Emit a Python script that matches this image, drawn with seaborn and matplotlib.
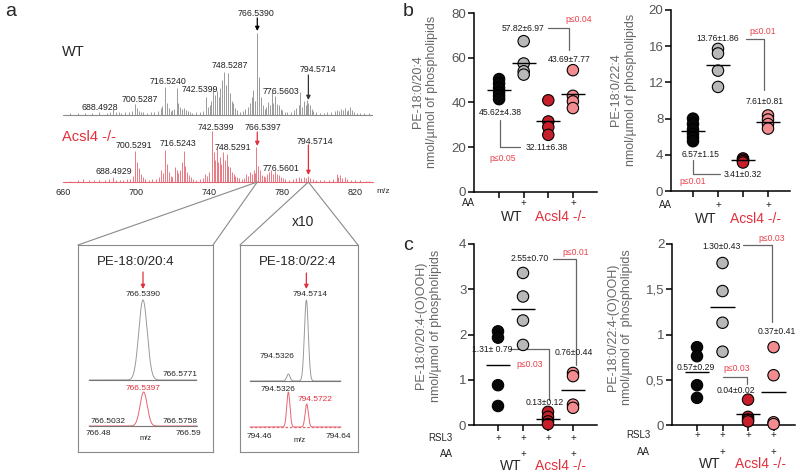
import numpy as np
import pandas as pd
import matplotlib
matplotlib.use("Agg")
import matplotlib.pyplot as plt
import seaborn as sns
from matplotlib.patches import ConnectionPatch

# ---------------- data ----------------
spec_xticks = [660, 700, 740, 780, 820]

wt_mz = [664, 668, 672, 676, 680, 684, 686, 687.5, 689, 690.5, 692, 694, 696, 698, 699.5, 700.5, 701.5,
         702.5, 704, 706, 708, 710, 712, 713.5, 714.5, 715.9, 716.9, 718, 719, 720, 721, 722.3, 723.3,
         724.3, 725.3, 726.3, 727.3, 728.3, 729.5, 731, 733, 735, 736.5, 738.2, 739.3, 740.4, 741.4,
         742.4, 743.4, 744.3, 745.3, 746.2, 747.3, 748.4, 749.4, 750.5, 751.5, 752.5, 753.4, 754.5,
         755.5, 757, 758.5, 760, 761.5, 762.5, 763.5, 764.4, 765.4, 766.5, 767.5, 768.5, 769.5, 770.5,
         771.5, 772.3, 773.3, 774.4, 775.3, 776.4, 777.4, 778.2, 779.3, 780.3, 781.5, 783, 785, 786.5,
         788, 789.5, 790.2, 791.2, 792.1, 793.1, 794.0, 794.6, 795.4, 796.3, 797.3, 799, 801, 803, 805,
         807, 809, 810.5, 811.5, 812.5, 813.5, 814.5, 815.5, 816.5, 817.5, 818.5, 819.5, 821, 823, 825, 828]
wt_int = [1.5, 2, 1.5, 2, 2.5, 2, 3, 6, 3, 2.5, 2, 2.5, 3, 4, 11, 7, 4,
          3, 2.5, 2, 2.5, 3, 4, 7, 9, 28, 12, 7, 4, 5, 6, 27, 12,
          8, 6, 7, 5, 4, 3, 2, 2.5, 3, 4, 18, 8, 10, 14,
          28, 20, 24, 18, 27, 35, 43, 30, 42, 22, 14, 12, 7,
          5, 3, 4, 6, 8, 12, 18, 25, 14, 82, 38, 18, 10, 6,
          8, 13, 10, 23, 12, 19, 11, 10, 6, 5, 3, 2.5, 3, 5,
          7, 10, 23, 8, 14, 10, 15, 12, 10, 6, 4, 3, 2, 2, 2.5,
          3, 4, 5, 4, 6, 5, 7, 4, 5, 8, 5, 3, 2, 2, 1.5, 1.5]

ko_mz = [664, 668, 671, 674, 677, 680, 683, 685, 687.6, 689, 691, 693, 695, 697, 698.5, 699.6, 700.6,
         701.6, 702.6, 703.6, 705, 707, 709, 711, 712.5, 713.6, 714.6, 715.9, 716.9, 717.9, 719, 720,
         721.3, 722.3, 723.3, 724.3, 725.3, 726.1, 727.1, 728.1, 729.2, 730.3, 731.5, 733, 735, 736.5,
         738, 739, 740.2, 741.8, 742.8, 743.6, 744.3, 745.2, 746.0, 746.9, 747.8, 748.8, 749.7, 750.6,
         751.5, 752.5, 753.5, 754.5, 755.6, 756.5, 758, 759.5, 760.5, 761.5, 762.5, 763.5, 764.5, 765.3,
         766.1, 767.0, 768, 769, 770, 771, 772, 773, 774.2, 775, 776.2, 777.2, 778.3, 779.3, 780.5, 782,
         784, 786, 788, 789.5, 790.5, 792, 793.3, 794.5, 795.5, 797, 799, 801, 803, 806, 808, 810, 811,
         812, 813, 814.5, 816, 818, 820, 823, 826, 828]
ko_int = [1.5, 2, 3, 2, 2, 2.5, 2, 3, 5, 2, 2, 2.5, 3, 3, 6, 31, 20,
          14, 8, 5, 3, 2.5, 3, 3, 5, 12, 9, 32, 18, 10, 6, 5,
          15, 12, 9, 12, 20, 31, 16, 10, 7, 5, 3, 2.5, 3, 4,
          8, 6, 10, 51, 30, 22, 33, 20, 25, 18, 30, 22, 28, 16,
          15, 10, 8, 6, 5, 4, 3, 4, 8, 6, 10, 8, 12, 9,
          35, 16, 12, 7, 6, 5, 8, 10, 12, 8, 11, 8, 7, 5, 4, 3,
          2.5, 3, 4, 5, 4, 5, 4, 6, 4, 3, 2, 2, 2, 2.5, 3, 8, 5,
          7, 4, 5, 3, 2.5, 2, 2, 1.5, 1.5]

wt_peak_labels = ["688.4928", "700.5287", "716.5240", "742.5399", "748.5287", "766.5390", "776.5603", "794.5714"]
ko_peak_labels = ["688.4929", "700.5291", "716.5243", "742.5399", "748.5291", "766.5397", "776.5601", "794.5714"]
arrow_peaks = [766.54, 794.57]

inset1_title = "PE-18:0/20:4"
inset1_wt_center, inset1_wt_height, inset1_wt_width = [766.5390], [80], [0.0047]
inset1_ko_center, inset1_ko_height, inset1_ko_width = [766.5397], [34], [0.0040]
inset1_labels = ["766.5390", "766.5771", "766.5397", "766.5032", "766.5758"]
inset1_range = ["766.48", "766.59"]

inset2_title = "PE-18:0/22:4"
inset2_wt_center, inset2_wt_height, inset2_wt_width = [794.5326, 794.5714], [7, 81], [0.0035, 0.0042]
inset2_ko_center, inset2_ko_height, inset2_ko_width = [794.5326, 794.5722], [35, 23], [0.0034, 0.0034]
inset2_labels = ["794.5714", "794.5326", "794.5326", "794.5722"]
inset2_range = ["794.46", "794.64"]

groups = ["WT", "WT+AA", "Acsl4", "Acsl4+AA"]
group_colors = ["#080808", "#b8b8b8", "#c61f2a", "#f28c90"]

b1_vals = [[50.5, 48.5, 46.5, 44.5, 43.0, 41.5], [67.5, 57.5, 54.0, 52.5],
           [41.0, 31.5, 29.0, 25.5], [54.5, 43.0, 40.5, 37.5]]
b2_vals = [[8.0, 7.4, 6.8, 6.3, 5.9, 5.5], [15.7, 15.2, 13.3, 11.5],
           [3.6, 3.45, 3.3, 3.15], [8.35, 7.9, 7.4, 6.9]]
c1_vals = [[2.07, 1.93, 0.88, 0.42], [3.36, 2.84, 2.31, 1.77],
           [0.29, 0.18, 0.08, 0.02], [1.15, 1.08, 0.45, 0.38]]
c2_vals = [[0.86, 0.76, 0.44, 0.30], [1.79, 1.48, 1.13, 0.81],
           [0.28, 0.09, 0.06, 0.04], [0.86, 0.55, 0.03, 0.01]]

b1_stats = ["45.62±4.38", "57.82±6.97", "32.11±6.38", "43.69±7.77"]
b1_p = ["p≤0.05", "p≤0.04"]
b2_stats = ["6.57±1.15", "13.76±1.86", "3.41±0.32", "7.61±0.81"]
b2_p = ["p≤0.01", "p≤0.01"]
c1_stats = ["1.31± 0.79", "2.55±0.70", "0.13±0.12", "0.76±0.44"]
c1_p = ["p≤0.03", "p≤0.01"]
c2_stats = ["0.57±0.29", "1.30±0.43", "0.04±0.02", "0.37±0.41"]
c2_p = ["p≤0.03", "p≤0.03"]

b1_ylabel = "PE-18:0/20:4\nnmol/µmol of phospholipids"
b2_ylabel = "PE-18:0/22:4\nnmol/µmol of phospholipids"
c1_ylabel = "PE-18:0/20:4-(O)OOH)\nnmol/µmol of phospholipids"
c2_ylabel = "PE-18:0/22:4-(O)OOH)\nnmol/µmol of  phospholipids"
c2_yticklabels = ["0", "0,5", "1", "1,5", "2"]

# ---------------- style ----------------
sns.set_style("ticks")
plt.rcParams["font.family"] = ["Liberation Sans", "DejaVu Sans"]

W, H = 800, 473
fig = plt.figure(figsize=(W / 100, H / 100), dpi=100)

RED = "#e0303c"
PRED = "#e8414b"
GRAYSPEC = "#8a8a8a"


def rect(l, t, r, b):
    return [l / W, 1 - b / H, (r - l) / W, (b - t) / H]


def ftext(x, y, s, **kw):
    kw.setdefault("ha", "center")
    kw.setdefault("va", "center")
    fig.text(x / W, 1 - y / H, s, **kw)


def blank(ax):
    ax.set_xticks([])
    ax.set_yticks([])
    for s in ax.spines.values():
        s.set_visible(False)
    ax.patch.set_alpha(0)


# ---------------- panel a: spectra ----------------
ax_s = fig.add_axes(rect(63, 5, 373, 182))
blank(ax_s)
ax_s.set_xlim(660, 830)
ax_s.set_ylim(0, 177)
wt_off = 67
ax_s.vlines(wt_mz, wt_off, np.array(wt_int) + wt_off, color=GRAYSPEC, lw=0.6)
ax_s.plot([660, 830], [wt_off, wt_off], color=GRAYSPEC, lw=0.8)
ax_s.vlines(ko_mz, 0, ko_int, color="#e56470", lw=0.6, clip_on=False)
ax_s.plot([660, 830], [0, 0], color="#e56470", lw=0.8, clip_on=False)
ax_s.set_xticks(spec_xticks)
ax_s.set_xticklabels([str(t) for t in spec_xticks], fontsize=6.5)
ax_s.tick_params(axis="x", length=0, pad=4)
ftext(376, 191, "m/z", fontsize=6, ha="left")

wt_lab_pos = [(100, 107), (140, 100), (168, 81), (200, 90), (230, 65), (256, 14), (281, 91), (318, 70)]
ko_lab_pos = [(114, 172), (134, 146), (178, 143), (216, 127), (233, 147), (263, 127), (281, 168), (315, 141)]
for s, (x, y) in zip(wt_peak_labels, wt_lab_pos):
    ftext(x, y, s, fontsize=6.3, color="#222")
for s, (x, y) in zip(ko_peak_labels, ko_lab_pos):
    ftext(x, y, s, fontsize=6.3, color="#222")

ap = dict(arrowstyle="-|>", lw=0.9, mutation_scale=6, shrinkA=0, shrinkB=0)
ax_s.annotate("", xy=(arrow_peaks[0], 182 - 31), xytext=(arrow_peaks[0], 182 - 18),
              arrowprops=dict(ap, color="k"), annotation_clip=False)
ax_s.annotate("", xy=(arrow_peaks[1], 182 - 100), xytext=(arrow_peaks[1], 182 - 75),
              arrowprops=dict(ap, color="#333"), annotation_clip=False)
ax_s.annotate("", xy=(arrow_peaks[0], 182 - 146), xytext=(arrow_peaks[0], 182 - 132),
              arrowprops=dict(ap, color=RED), annotation_clip=False)
ax_s.annotate("", xy=(arrow_peaks[1], 182 - 175), xytext=(arrow_peaks[1], 182 - 145),
              arrowprops=dict(ap, color=RED), annotation_clip=False)

ftext(62, 52, "WT", fontsize=10.5, ha="left")
ftext(62, 137, "Acsl4 -/-", fontsize=10.5, ha="left", color=RED)
ftext(5, 12, "a", fontsize=14, ha="left")
ftext(403, 12, "b", fontsize=14, ha="left")
ftext(403, 245, "c", fontsize=14, ha="left")

# boxes
for bx in [(78, 245, 213, 452), (240, 245, 358, 452)]:
    axb = fig.add_axes(rect(*bx))
    axb.set_xticks([]); axb.set_yticks([])
    axb.patch.set_alpha(0)
    for s in axb.spines.values():
        s.set_color("#8a8a8a"); s.set_linewidth(0.8)

# zoom connection lines
for mz, corners in [(arrow_peaks[0], [(78, 245), (213, 245)]), (arrow_peaks[1], [(240, 245), (358, 245)])]:
    for cx, cy in corners:
        con = ConnectionPatch(xyA=(mz, 0), coordsA=ax_s.transData,
                              xyB=(cx / W, 1 - cy / H), coordsB=fig.transFigure,
                              color="#8a8a8a", lw=0.8)
        fig.add_artist(con)
ftext(303, 222, "x10", fontsize=10)


def gauss_curve(ax, centers, heights, widths, off, color, lw=0.7):
    xl = ax.get_xlim()
    xs = np.linspace(xl[0], xl[1], 600)
    ys = np.zeros_like(xs)
    for c, h, w in zip(centers, heights, widths):
        ys += h * np.exp(-0.5 * ((xs - c) / w) ** 2)
    ax.plot(xs, ys + off, color=color, lw=lw, clip_on=False)


# inset 1
ax_i1 = fig.add_axes(rect(89, 295, 197, 426))
blank(ax_i1)
ax_i1.set_xlim(766.479, 766.599)
ax_i1.set_ylim(0, 131)
gauss_curve(ax_i1, inset1_wt_center, inset1_wt_height, inset1_wt_width, 46, "#999")
ax_i1.axhline(46, color="#777", lw=0.8)
gauss_curve(ax_i1, inset1_ko_center, inset1_ko_height, inset1_ko_width, 0, "#e56470")
ax_i1.plot(ax_i1.get_xlim(), [0, 0], color="#777", lw=0.8, clip_on=False)
ax_i1.annotate("", xy=(inset1_wt_center[0], 426 - 289), xytext=(inset1_wt_center[0], 426 - 272),
               arrowprops=dict(ap, color=RED), annotation_clip=False)
ftext(136, 262, inset1_title, fontsize=9.5)
ftext(143, 295, inset1_labels[0], fontsize=6)
ftext(180, 374, inset1_labels[1], fontsize=6)
ftext(143, 388, inset1_labels[2], fontsize=6, color=RED)
ftext(108, 421, inset1_labels[3], fontsize=6)
ftext(180, 421, inset1_labels[4], fontsize=6)
ftext(98, 433, inset1_range[0], fontsize=6)
ftext(188, 433, inset1_range[1], fontsize=6)
ftext(146, 438, "m/z", fontsize=5.5)

# inset 2
ax_i2 = fig.add_axes(rect(250, 295, 341, 427))
blank(ax_i2)
ax_i2.set_xlim(794.450, 794.646)
ax_i2.set_ylim(0, 132)
gauss_curve(ax_i2, inset2_wt_center, inset2_wt_height, inset2_wt_width, 46, "#999")
ax_i2.axhline(46, color="#777", lw=0.8)
gauss_curve(ax_i2, inset2_ko_center, inset2_ko_height, inset2_ko_width, 0, "#e56470")
ax_i2.plot(ax_i2.get_xlim(), [0, 0], color="#e56470", lw=0.9, ls=(0, (2, 1.5)), clip_on=False)
ax_i2.annotate("", xy=(inset2_wt_center[1], 427 - 289), xytext=(inset2_wt_center[1], 427 - 273),
               arrowprops=dict(ap, color=RED), annotation_clip=False)
ftext(298, 262, inset2_title, fontsize=9.5)
ftext(310, 295, inset2_labels[0], fontsize=6)
ftext(277, 356, inset2_labels[1], fontsize=6)
ftext(278, 389, inset2_labels[2], fontsize=6)
ftext(315, 399, inset2_labels[3], fontsize=6, color=RED)
ftext(259, 436, inset2_range[0], fontsize=6)
ftext(338, 436, inset2_range[1], fontsize=6)
ftext(300, 440, "m/z", fontsize=5.5)


# ---------------- panels b/c: scatter ----------------
def scatter_panel(box, vals, xlim, ylim, yticks, yticklabels, ylabel, ylab_xy,
                  stats, stat_xy, pvals, p_xy, brackets, rows, row_y, label_y, row_label_x):
    ax = fig.add_axes(rect(*box))
    df = pd.DataFrame([(g, v) for g, vs in zip(groups, vals) for v in vs], columns=["group", "value"])
    sns.stripplot(data=df, x="group", y="value", hue="group", order=groups, hue_order=groups,
                  palette=dict(zip(groups, group_colors)), jitter=False, size=8.2,
                  linewidth=0.8, edgecolor="black", legend=False, ax=ax, zorder=3)
    for c in ax.collections:
        c.set_clip_on(False)
    means = df.groupby("group")["value"].mean().reindex(groups).values
    ax.hlines(means, np.arange(4) - 0.48, np.arange(4) + 0.48, color="black", lw=1.0, zorder=4)
    ax.set_xlim(*xlim)
    ax.set_ylim(*ylim)
    ax.set_yticks(yticks)
    ax.set_yticklabels(yticklabels if yticklabels else [f"{t:g}" for t in yticks])
    ax.set_xticks(range(4))
    ax.set_xticklabels([])
    ax.set_xlabel("")
    ax.set_ylabel("")
    ax.tick_params(axis="both", direction="out", length=4, width=1.1, color="black",
                   labelsize=9.5, labelcolor="#555", pad=1.5)
    for side in ["top", "right"]:
        ax.spines[side].set_visible(False)
    for side in ["left", "bottom"]:
        ax.spines[side].set_linewidth(1.1)
        ax.spines[side].set_color("black")
    ax.text(ylab_xy[0], ylab_xy[1], ylabel, transform=ax.transAxes, rotation=90,
            ha="center", va="center", fontsize=9, color="#666", linespacing=1.25)
    for s, (x, y) in zip(stats, stat_xy):
        ax.text(x, y, s, ha="center", va="center", fontsize=6.2, color="#1a1a1a", zorder=5)
    for s, (x, y) in zip(pvals, p_xy):
        ax.text(x, y, s, ha="center", va="center", fontsize=6.2, color=PRED, zorder=5)
    for br in brackets:
        xs, ys = zip(*br)
        ax.plot(xs, ys, color="#666", lw=0.9, zorder=2)
    tr = ax.get_xaxis_transform()
    for (name, marks), ry in zip(rows, row_y):
        ax.text(row_label_x, ry, name, transform=tr, ha="right", va="center", fontsize=7)
        for i, m in enumerate(marks):
            if m:
                ax.text(i, ry, "+", transform=tr, ha="center", va="center", fontsize=7)
    ax.text(0.5, label_y, "WT", transform=tr, ha="center", va="center", fontsize=10)
    ax.text(2.5, label_y, "Acsl4 -/-", transform=tr, ha="center", va="center", fontsize=10, color=RED)
    return ax


scatter_panel((474, 13.3, 597, 191.7), b1_vals, (-1.02, 3.98), (0, 80), [0, 20, 40, 60, 80], None,
              b1_ylabel, (-0.40, 0.56), b1_stats,
              [(0.04, 35.3), (0.96, 73.4), (1.92, 20.0), (2.86, 59.1)],
              b1_p, [(0.16, 15.1), (3.22, 77.0)],
              [[(0.04, 32.2), (0.04, 20.0), (0.86, 20.0)], [(2.0, 73.4), (2.86, 73.4), (2.86, 63.5)]],
              [("AA", [0, 1, 0, 1])], [-0.065], -0.142, -1.0)

scatter_panel((671, 10, 790, 191), b2_vals, (-0.88, 3.88), (0, 20), [0, 4, 8, 12, 16, 20], None,
              b2_ylabel, (-0.40, 0.56), b2_stats,
              [(0.32, 4.0), (1.0, 16.8), (1.98, 1.78), (2.88, 9.9)],
              b2_p, [(0.0, 1.03), (2.8, 17.6)],
              [[(0.01, 3.44), (0.01, 1.89), (1.08, 1.89)], [(2.12, 16.8), (2.84, 16.8), (2.84, 11.2)]],
              [("AA", [0, 1, 0, 1])], [-0.075], -0.155, -0.85)

scatter_panel((474, 244, 597, 425), c1_vals, (-0.96, 3.96), (0, 4), [0, 1, 2, 3, 4], None,
              c1_ylabel, (-0.37, 0.55), c1_stats,
              [(-0.22, 1.67), (1.26, 3.67), (1.88, 0.49), (3.02, 1.61)],
              c1_p, [(1.28, 1.33), (3.1, 3.81)],
              [[(0.48, 1.67), (2.04, 1.67), (2.04, 0.55)], [(2.2, 3.67), (3.12, 3.67), (3.12, 1.33)]],
              [("RSL3", [1, 1, 1, 1]), ("AA", [0, 1, 0, 1])], [-0.072, -0.16], -0.228, -1.8)

scatter_panel((672, 244, 795, 425), c2_vals, (-0.98, 3.84), (0, 2), [0, 0.5, 1, 1.5, 2], c2_yticklabels,
              c2_ylabel, (-0.42, 0.54), c2_stats,
              [(-0.06, 0.63), (0.96, 1.97), (1.51, 0.38), (3.14, 1.03)],
              c2_p, [(1.57, 0.62), (2.94, 2.06)],
              [[(1.02, 0.53), (1.95, 0.53), (1.95, 0.45)], [(1.8, 1.99), (2.94, 1.99), (2.94, 1.14)]],
              [("RSL3", [1, 1, 1, 1]), ("AA", [0, 1, 0, 1])], [-0.055, -0.147], -0.215, -1.84)

fig.savefig("out.png", dpi=100)
